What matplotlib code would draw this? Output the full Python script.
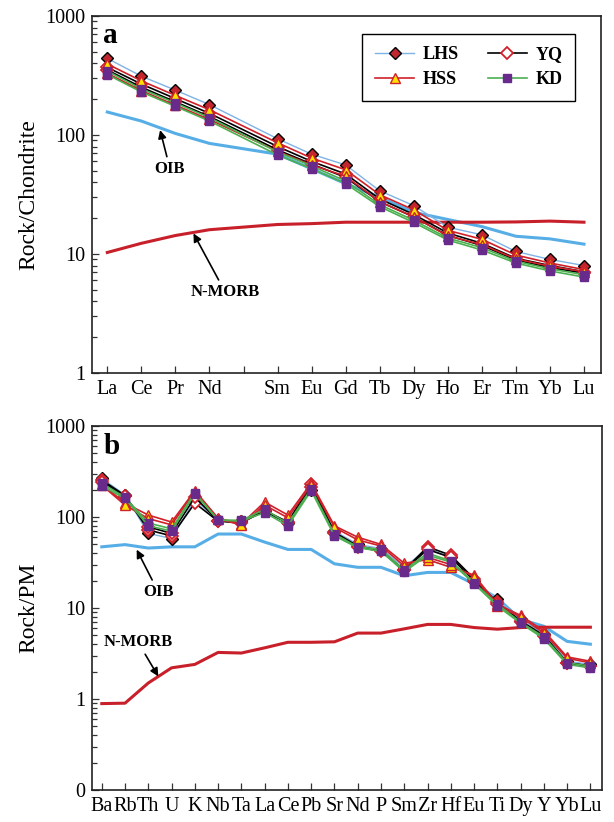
import numpy as np
import matplotlib
matplotlib.use('Agg')
import matplotlib.pyplot as plt
from matplotlib.lines import Line2D
from matplotlib.ticker import FixedLocator, FixedFormatter, LogLocator, NullFormatter

plt.rcParams['font.family'] = ['Liberation Serif', 'DejaVu Serif']

##############################
#    Data    #

# chondrite normalised REE (Pm has no value, only a tick)
ree_labels = ['La', 'Ce', 'Pr', 'Nd', '', 'Sm', 'Eu', 'Gd', 'Tb', 'Dy', 'Ho', 'Er', 'Tm', 'Yb', 'Lu']

lhs_ree = [[440, 312, 238, 180, 93, 69, 56, 34, 25.5, 16.8, 14.5, 10.5, 9.0, 8.0]]
yq_ree = [[370, 268, 202, 152, 80, 60, 47, 29, 21.5, 15.0, 12.3, 9.2, 8.0, 7.1],
          [352, 252, 190, 143, 75, 57, 44, 27.5, 20.5, 14.3, 11.8, 8.9, 7.7, 6.9]]
hss_ree = [[395, 285, 215, 163, 86, 64, 51, 31.5, 23.5, 15.8, 13.3, 9.8, 8.4, 7.4],
           [330, 236, 178, 135, 73, 56, 45, 27.5, 20.5, 14.2, 12.0, 9.1, 7.9, 7.1]]
kd_ree = [[345, 244, 186, 140, 72, 55, 41, 26, 19.2, 13.6, 11.3, 8.7, 7.5, 6.7],
          [322, 230, 174, 131, 68, 52, 39, 25, 18.4, 13.1, 10.8, 8.4, 7.2, 6.4]]
oib_ree = [156, 131, 103, 85, 69, 52, 39, 30, 22.4, 19.5, 17.0, 14.1, 13.4, 12.1]
nmorb_ree = [10.3, 12.3, 14.3, 16.0, 17.7, 18.0, 18.5, 18.5, 18.5, 18.5, 18.5, 18.6, 18.9, 18.5]

# primitive mantle normalised trace elements
spider_labels = ['Ba', 'Rb', 'Th', 'U', 'K', 'Nb', 'Ta', 'La', 'Ce', 'Pb', 'Sr',
                 'Nd', 'P', 'Sm', 'Zr', 'Hf', 'Eu', 'Ti', 'Dy', 'Y', 'Yb', 'Lu']

lhs_pm = [[265, 175, 66, 58, 155, 92, 90, 115, 85, 200, 70, 50, 45, 28, 45, 36, 20, 12.5, 7.5, 5.2, 2.6, 2.4]]
yq_pm = [[255, 172, 72, 62, 142, 90, 86, 118, 88, 230, 68, 48, 43, 26, 47, 38, 21, 11.5, 7.2, 5.0, 2.5, 2.3],
         [245, 168, 78, 66, 165, 91, 88, 116, 86, 215, 66, 47, 42, 26, 44, 36, 20, 11.2, 7.0, 4.9, 2.5, 2.3]]
hss_pm = [[230, 142, 105, 88, 195, 97, 84, 146, 105, 236, 80, 60, 50, 31, 34, 28, 23, 11.0, 8.3, 5.6, 2.9, 2.6],
          [224, 135, 96, 82, 190, 95, 82, 135, 98, 226, 77, 56, 48, 29, 36, 30, 22, 10.5, 8.0, 5.3, 2.8, 2.5]]
kd_pm = [[235, 165, 86, 74, 185, 92, 92, 121, 85, 205, 65, 47, 44, 26, 40, 33, 19, 11.0, 7.0, 4.8, 2.5, 2.3],
         [220, 160, 80, 70, 180, 93, 90, 112, 80, 195, 62, 46, 42, 25, 38, 32, 18.5, 10.5, 6.8, 4.6, 2.4, 2.2]]
oib_pm = [47, 49.7, 45.6, 47, 47, 65, 65, 53, 44, 44, 30.6, 28, 28, 22.6, 24.6, 24.6, 18.3, 12.8, 7.5, 6.3, 4.3, 4.0]
nmorb_pm = [0.89, 0.90, 1.5, 2.2, 2.4, 3.25, 3.2, 3.65, 4.2, 4.2, 4.25, 5.3, 5.3, 5.9, 6.6, 6.6, 6.1, 5.85, 6.1, 6.15, 6.15, 6.15]

group_names = ['LHS', 'YQ', 'HSS', 'KD']

#    Data    #
##############################

styles = {
    'LHS': dict(color='#7fb2e5', lw=1.0, marker='D', ms=6, mfc='#c0262d', mec='black', mew=1.0),
    'YQ': dict(color='black', lw=1.2, marker='D', ms=6, mfc='white', mec='#d0202a', mew=1.3),
    'HSS': dict(color='#d0202a', lw=1.2, marker='^', ms=7, mfc='#ffe000', mec='#d0202a', mew=1.0),
    'KD': dict(color='#4caf50', lw=1.2, marker='s', ms=6, mfc='#682b8c', mec='#682b8c', mew=1.0),
}
oib_color = '#57aee6'
nmorb_color = '#c8202a'

fig = plt.figure(figsize=(6.14, 8.22), dpi=100)
ax1 = fig.add_axes([92/614, 1-373/822, 509/614, 357/822])
ax2 = fig.add_axes([92/614, 1-790/822, 510/614, 364/822])

def style_axis(ax):
    ax.set_yscale('log')
    for s in ax.spines.values():
        s.set_linewidth(1.2)
        s.set_color('#222222')
    ax.tick_params(axis='both', which='both', direction='in', right=False, top=False,
                   labelsize=14.5, width=0.9, color='#333333')
    ax.tick_params(axis='y', which='major', length=5, pad=5)
    ax.tick_params(axis='y', which='minor', length=3.5)
    ax.tick_params(axis='x', which='major', length=5, pad=5)
    ax.yaxis.set_minor_locator(LogLocator(base=10, subs=np.arange(2, 10)))
    ax.yaxis.set_minor_formatter(NullFormatter())

# ---- panel a : REE ----
ree_pos = [i for i, s in enumerate(ree_labels) if s]
groups_ree = {'LHS': lhs_ree, 'YQ': yq_ree, 'HSS': hss_ree, 'KD': kd_ree}
ax1.plot(ree_pos, oib_ree, color=oib_color, lw=2.2, zorder=2)
ax1.plot(ree_pos, nmorb_ree, color=nmorb_color, lw=2.2, zorder=2)
for name in group_names:
    for vals in groups_ree[name]:
        ax1.plot(ree_pos, vals, zorder=3, **styles[name])

style_axis(ax1)
ax1.set_xlim(-0.45, 14.5)
ax1.set_ylim(1, 1000)
ax1.xaxis.set_major_locator(FixedLocator(range(len(ree_labels))))
ax1.xaxis.set_major_formatter(FixedFormatter(ree_labels))
ax1.yaxis.set_major_locator(FixedLocator([1, 10, 100, 1000]))
ax1.yaxis.set_major_formatter(FixedFormatter(['1', '10', '100', '1000']))
ax1.set_ylabel('Rock/Chondrite', fontsize=17, labelpad=4)
ax1.text(0.022, 0.945, 'a', transform=ax1.transAxes, fontsize=21, fontweight='bold',
         ha='left', va='center')

arrow = dict(arrowstyle='-|>', color='black', lw=1.2, mutation_scale=12, shrinkA=1, shrinkB=0)
ax1.annotate('OIB', xy=(1.55, 110), xytext=(1.84, 52), fontsize=12, fontweight='bold',
             ha='center', va='center', arrowprops=arrow)
ax1.annotate('N-MORB', xy=(2.53, 14.9), xytext=(3.46, 4.8), fontsize=12, fontweight='bold',
             ha='center', va='center', arrowprops=arrow)

handles = [Line2D([], [], **styles[n]) for n in ['LHS', 'HSS', 'YQ', 'KD']]
leg = ax1.legend(handles, ['LHS', 'HSS', 'YQ', 'KD'], ncol=2, loc='upper right',
                 bbox_to_anchor=(0.949, 0.950), borderaxespad=0, fancybox=False,
                 edgecolor='black', framealpha=1, handlelength=2.2, columnspacing=1.6,
                 handletextpad=0.45, borderpad=0.7, labelspacing=0.42,
                 prop={'weight': 'bold', 'size': 13})
leg.get_frame().set_linewidth(1.0)

# ---- panel b : spider diagram ----
sp_pos = np.arange(len(spider_labels))
groups_pm = {'LHS': lhs_pm, 'YQ': yq_pm, 'HSS': hss_pm, 'KD': kd_pm}
ax2.plot(sp_pos, oib_pm, color=oib_color, lw=2.2, zorder=2)
ax2.plot(sp_pos, nmorb_pm, color=nmorb_color, lw=2.2, zorder=2)
for name in group_names:
    for vals in groups_pm[name]:
        ax2.plot(sp_pos, vals, zorder=3, **styles[name])

style_axis(ax2)
ax2.set_xlim(-0.42, 21.5)
ax2.set_ylim(0.1, 1000)
ax2.xaxis.set_major_locator(FixedLocator(sp_pos))
ax2.xaxis.set_major_formatter(FixedFormatter(spider_labels))
ax2.yaxis.set_major_locator(FixedLocator([0.1, 1, 10, 100, 1000]))
ax2.yaxis.set_major_formatter(FixedFormatter(['0', '1', '10', '100', '1000']))
ax2.set_ylabel('Rock/PM', fontsize=17, labelpad=4)
ax2.text(0.022, 0.945, 'b', transform=ax2.transAxes, fontsize=21, fontweight='bold',
         ha='left', va='center')

ax2.annotate('OIB', xy=(1.5, 43.8), xytext=(2.43, 15), fontsize=12, fontweight='bold',
             ha='center', va='center', arrowprops=arrow)
ax2.annotate('N-MORB', xy=(2.43, 1.77), xytext=(1.56, 4.2), fontsize=12, fontweight='bold',
             ha='center', va='center', arrowprops=arrow)

fig.savefig('out.png', dpi=100)
